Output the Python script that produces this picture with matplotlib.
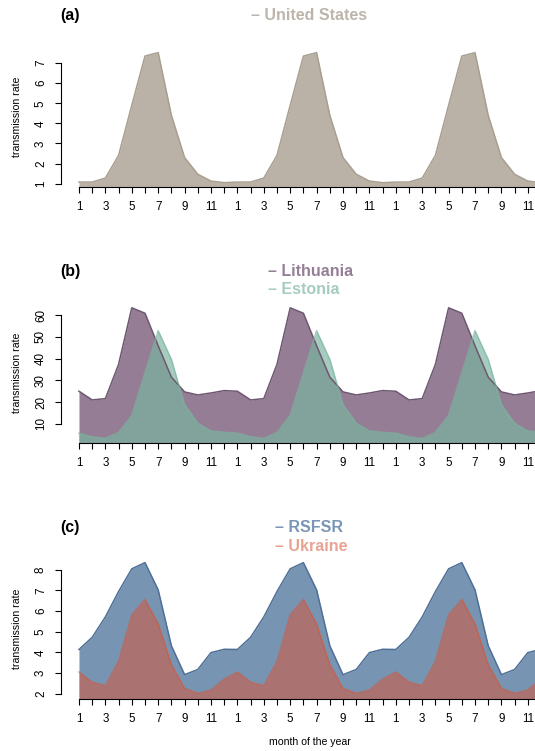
import numpy as np
import matplotlib.pyplot as plt
from matplotlib.colors import to_rgba

plt.rcParams['font.family'] = ['Liberation Sans', 'DejaVu Sans']

# monthly transmission rates, one seasonal year each (Jan..Dec)
usa = [1.08, 1.08, 1.28, 2.41, 4.9, 7.35, 7.52, 4.4, 2.3, 1.47, 1.13, 1.05]
lithuania = [25.0, 21.0, 21.6, 37.4, 63.4, 60.9, 45.9, 31.5, 24.7, 23.3, 24.2, 25.3]
estonia = [5.7, 4.0, 3.3, 6.0, 13.9, 33.4, 52.9, 39.7, 18.8, 10.3, 6.7, 6.1]
rsfsr = [4.14, 4.73, 5.72, 6.95, 8.05, 8.35, 7.03, 4.32, 2.92, 3.17, 3.99, 4.15]
ukraine = [3.05, 2.56, 2.39, 3.58, 5.83, 6.57, 5.39, 3.41, 2.26, 2.02, 2.18, 2.71]

n_years = 3
months = np.arange(1, 12 * n_years + 1)
month_labels = [str(m) if m % 2 == 1 else '' for m in np.tile(np.arange(1, 13), n_years)]

W, H = 535, 751
fig = plt.figure(figsize=(W / 100, H / 100), dpi=100)


def panel(bottom_px, ylim, yticks):
    left_px, right_px, height_px = 60.5, 559.5, 140.5
    ax = fig.add_axes([left_px / W, 1 - bottom_px / H,
                       (right_px - left_px) / W, height_px / H])
    ax.set_xlim(-0.4, 37.4)
    ax.set_ylim(*ylim)
    for s in ['top', 'right']:
        ax.spines[s].set_visible(False)
    ax.spines['left'].set_bounds(yticks[0], yticks[-1])
    ax.spines['bottom'].set_bounds(1, months[-1])
    for s in ['left', 'bottom']:
        ax.spines[s].set_linewidth(0.8)
    ax.set_xticks(months)
    ax.set_xticklabels(month_labels)
    ax.set_yticks(yticks)
    ax.tick_params(axis='both', direction='out', length=4.3, width=0.8,
                   labelsize=8.4, pad=5.5)
    for lab in ax.get_yticklabels():
        lab.set_rotation(90)
        lab.set_va('center')
    ax.set_ylabel('transmission rate', fontsize=7.6)
    ax.yaxis.set_label_coords(-0.077, 0.5)
    return ax


def area(ax, values, fill, line, alpha=1.0):
    y = np.tile(values, n_years)
    ax.fill_between(months, 0, y, color=fill, alpha=alpha, lw=0, zorder=2)
    ax.plot(months, y, color=line, alpha=alpha, lw=1.1, zorder=3)


def legend_text(x, y, text, color, ha='left'):
    fig.text(x / W, 1 - y / H, text, color=color, fontsize=11.5,
             fontweight='bold', ha=ha, va='center')


def panel_tag(y, tag):
    fig.text(70 / W, 1 - y / H, tag, fontsize=11.5, fontweight='bold',
             ha='center', va='center')


# (a) United States
ax_a = panel(187.3, (0.82, 7.81), np.arange(1, 8))
area(ax_a, usa, '#bab2a6', '#a89f91')
panel_tag(15.5, '(a)')
legend_text(309.5, 15.5, '– United States', '#bdb5aa', ha='center')

# (b) Baltic republics
ax_b = panel(443.3, (1.04, 65.7), np.arange(10, 61, 10))
area(ax_b, lithuania, '#957e95', '#6d5871')
estonia_col = to_rgba('#7ab59f')
area(ax_b, estonia, estonia_col, '#7ab59f', alpha=0.68)
panel_tag(271.5, '(b)')
legend_text(268, 271, '– Lithuania', '#957f97')
legend_text(268, 289, '– Estonia', (0.48, 0.71, 0.62, 0.68))

# (c) RSFSR and Ukraine
ax_c = panel(699, (1.74, 8.55), np.arange(2, 9))
area(ax_c, rsfsr, '#7795b3', '#4f6f97')
area(ax_c, ukraine, '#d75537', '#d75537', alpha=0.54)
panel_tag(527.5, '(c)')
legend_text(275, 527.5, '– RSFSR', '#7a95b5')
legend_text(275, 546.5, '– Ukraine', (0.843, 0.333, 0.216, 0.54))
ax_c.set_xlabel('month of the year', fontsize=7.6)
ax_c.xaxis.set_label_coords(0.5, -0.27)

fig.savefig('out.png', dpi=100)
